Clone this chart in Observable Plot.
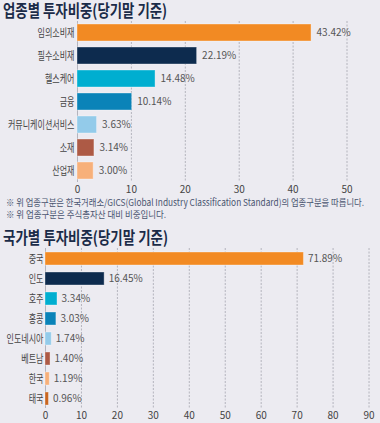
<!DOCTYPE html>
<html><head><meta charset="utf-8">
<script src="https://cdn.jsdelivr.net/npm/d3@7"></script>
<script src="https://cdn.jsdelivr.net/npm/@observablehq/plot@0.6"></script>
<style>
body{margin:0;background:#ecebf1;width:380px;height:423px;overflow:hidden;position:relative;font-family:"Noto Sans CJK KR","Noto Sans",sans-serif;}
.title{position:absolute;left:3px;font-weight:700;font-size:16.5px;color:#1b2b48;white-space:nowrap;transform-origin:left center;line-height:20px;}
.note{position:absolute;left:6px;font-size:9.5px;color:#4a5570;white-space:nowrap;line-height:11px;transform-origin:left center;}
.chart{position:absolute;left:0;}
</style></head><body>
<div class="title" style="top:0px" data-w="164">업종별 투자비중(당기말 기준)</div>
<div class="chart" id="c1" style="top:20px"></div>
<div class="note" style="top:197px" data-w="358">※ 위 업종구분은 한국거래소/GICS(Global Industry Classification Standard)의 업종구분을 따릅니다.</div>
<div class="note" style="top:209px" data-w="160">※ 위 업종구분은 주식총자산 대비 비중입니다.</div>
<div class="title" style="top:227px" data-w="165">국가별 투자비중(당기말 기준)</div>
<div class="chart" id="c2" style="top:246px"></div>
<script>
const sectors = ["임의소비재","필수소비재","헬스케어","금융","커뮤니케이션서비스","소재","산업재"];
const sectorValues = [43.42,22.19,14.48,10.14,3.63,3.14,3.00];
const sectorColors = ["#f28a23","#0d2b4e","#00aed0","#0a83b8","#93cbea","#ad5a45","#f7b07a"];
const sectorTicks = [0,10,20,30,40,50];

const countries = ["중국","인도","호주","홍콩","인도네시아","베트남","한국","태국"];
const countryValues = [71.89,16.45,3.34,3.03,1.74,1.40,1.19,0.96];
const countryColors = ["#f28a23","#0d2b4e","#00aed0","#0a83b8","#93cbea","#ad5a45","#f7b07a","#c9651f"];
const countryTicks = [0,10,20,30,40,50,60,70,80,90];

function makeChart(names, values, colors, ticks, opts) {
  const data = names.map((n,i)=>({name:n, value:values[i], color:colors[i]}));
  const svg = Plot.plot({
    width: 380, height: opts.height,
    marginLeft: opts.marginLeft, marginRight: opts.marginRight,
    marginTop: opts.marginTop, marginBottom: opts.marginBottom,
    style: {background:"transparent", fontFamily:'"Noto Sans CJK KR","Noto Sans",sans-serif', fontSize:"10px", color:"#444"},
    x: {domain:[0, opts.xmax], ticks: ticks, tickSize:0, tickPadding:3, label:null},
    y: {domain:names, paddingInner:opts.pi, paddingOuter:opts.po, tickSize:0, tickPadding:opts.tp, label:null},
    color: {type:"identity"},
    marks: [
      Plot.ruleX(ticks.filter(t=>t>0), {stroke:"#b4b4bd", strokeDasharray:"2,1.5", strokeWidth:1}),
      Plot.ruleX([0], {stroke:"#b4b4bd", strokeWidth:1}),
      Plot.barX(data, {x:"value", y:"name", fill:"color", stroke:"#ffffff", strokeOpacity:0.35, strokeWidth:1}),
      Plot.text(data, {x:"value", y:"name", text:d=>d.value.toFixed(2)+"%", textAnchor:"start", dx:opts.dx, fill:"#555", fontSize:10})
    ]
  });
  svg.querySelectorAll('[aria-label^="y-axis"] text').forEach(t => {
    const s = t.textContent;
    if (!s) return;
    t.setAttribute("font-size", "11.5");
    t.style.fontSize = "11.5px";
    t.setAttribute("textLength", (s.length * 7.4).toFixed(1));
    t.setAttribute("lengthAdjust", "spacingAndGlyphs");
  });
  return svg;
}

document.getElementById("c1").appendChild(makeChart(sectors, sectorValues, sectorColors, sectorTicks,
  {height:176, marginLeft:77, marginRight:6, marginTop:1, marginBottom:14, xmax:55.1, pi:0.26, po:0.13, tp:3, dx:5}));
document.getElementById("c2").appendChild(makeChart(countries, countryValues, countryColors, countryTicks,
  {height:177, marginLeft:45, marginRight:5, marginTop:2, marginBottom:15, xmax:91.8, pi:0.35, po:0.175, tp:2, dx:4}));

document.querySelectorAll("[data-w]").forEach(el => {
  const w = el.scrollWidth;
  const target = +el.dataset.w;
  el.style.transform = `scaleX(${target / w})`;
});
</script>
</body></html>
